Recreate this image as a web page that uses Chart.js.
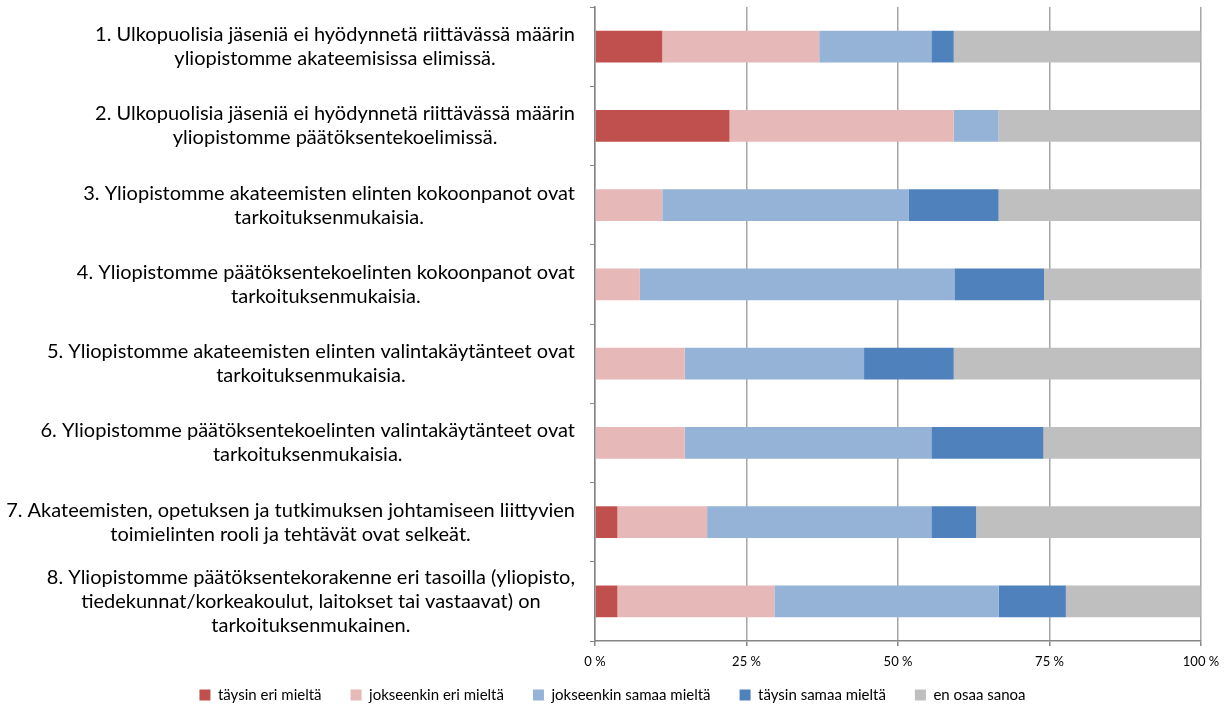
<!DOCTYPE html>
<html>
<head>
<meta charset="utf-8">
<script src="https://cdn.jsdelivr.net/npm/chart.js@4/dist/chart.umd.min.js"></script>
<style>
  html, body { margin:0; padding:0; background:#fff; }
  #wrap { width:1230px; height:704px; }
</style>
</head>
<body>
<div id="wrap"><canvas id="bar-chart"></canvas></div>
<script>
var categories = [
  ["1. Ulkopuolisia jäseniä ei hyödynnetä riittävässä määrin", "yliopistomme akateemisissa elimissä."],
  ["2. Ulkopuolisia jäseniä ei hyödynnetä riittävässä määrin", "yliopistomme päätöksentekoelimissä."],
  ["3. Yliopistomme akateemisten elinten kokoonpanot ovat", "tarkoituksenmukaisia."],
  ["4. Yliopistomme päätöksentekoelinten kokoonpanot ovat", "tarkoituksenmukaisia."],
  ["5. Yliopistomme akateemisten elinten valintakäytänteet ovat", "tarkoituksenmukaisia."],
  ["6. Yliopistomme päätöksentekoelinten valintakäytänteet ovat", "tarkoituksenmukaisia."],
  ["7. Akateemisten, opetuksen ja tutkimuksen johtamiseen liittyvien", "toimielinten rooli ja tehtävät ovat selkeät."],
  ["8. Yliopistomme päätöksentekorakenne eri tasoilla (yliopisto,", "tiedekunnat/korkeakoulut, laitokset tai vastaavat) on", "tarkoituksenmukainen."]
];

var taysinEri      = [11.1, 22.2, 0,    0,    0,    0,    3.7,  3.7];
var jokseenkinEri  = [25.9, 37.0, 11.1, 7.4,  14.8, 14.8, 14.8, 25.9];
var jokseenkinSama = [18.5, 7.4,  40.7, 51.9, 29.6, 40.7, 37.0, 37.0];
var taysinSama     = [3.7,  0,    14.8, 14.8, 14.8, 18.5, 7.4,  11.1];
var enOsaa         = [40.7, 33.3, 33.3, 25.9, 40.7, 25.9, 37.0, 22.2];

var xTickValues = [0, 25, 50, 75, 100];
var xTickLabels = ['0 %', '25 %', '50 %', '75 %', '100 %'];

var FONT = "Lato, 'Liberation Sans', sans-serif";

// axis labels drawn by hand: category lines centred inside a right-aligned block (like Excel),
// and the % labels below the axis (the built-in ones get clipped by the tight layout)
var axisLabelPlugin = {
  id: 'axisLabels',
  afterDraw: function(chart) {
    var ctx = chart.ctx;
    var ys = chart.scales.y;
    var xs = chart.scales.x;
    var right = chart.chartArea.left - 20;
    var lh = 24;
    ctx.save();
    ctx.font = '20px ' + FONT;
    ctx.fillStyle = '#000';
    ctx.textAlign = 'center';
    ctx.textBaseline = 'middle';
    categories.forEach(function(lines, i) {
      var w = 0;
      lines.forEach(function(l){ w = Math.max(w, ctx.measureText(l).width); });
      var cx = right - w / 2;
      var yc = ys.getPixelForValue(i);
      lines.forEach(function(l, j) {
        ctx.fillText(l, cx, yc + (j - (lines.length - 1) / 2) * lh);
      });
    });

    ctx.font = '13px ' + FONT;
    xTickValues.forEach(function(v, i) {
      ctx.fillText(xTickLabels[i], xs.getPixelForValue(v), chart.chartArea.bottom + 21);
    });
    ctx.restore();
  }
};

var ctx = document.getElementById('bar-chart').getContext('2d');
new Chart(ctx, {
  type: 'bar',
  data: {
    labels: categories,
    datasets: [
      { label: 'täysin eri mieltä', backgroundColor: '#C0504D', data: taysinEri },
      { label: 'jokseenkin eri mieltä', backgroundColor: '#E6B9B8', data: jokseenkinEri },
      { label: 'jokseenkin samaa mieltä', backgroundColor: '#95B3D7', data: jokseenkinSama },
      { label: 'täysin samaa mieltä', backgroundColor: '#4F81BD', data: taysinSama },
      { label: 'en osaa sanoa', backgroundColor: '#BFBFBF', data: enOsaa }
    ]
  },
  options: {
    indexAxis: 'y',
    responsive: true,
    maintainAspectRatio: false,
    animation: false,
    datasets: { bar: { barPercentage: 0.4, categoryPercentage: 1.0, borderWidth: 0 } },
    layout: { padding: { left: 24, right: 29, top: 7, bottom: -8.5 } },
    plugins: {
      tooltip: { enabled: false },
      legend: {
        position: 'bottom',
        labels: {
          boxWidth: 11, boxHeight: 11, padding: 29,
          color: '#000',
          font: { family: FONT, size: 15 }
        }
      }
    },
    scales: {
      x: {
        stacked: true, min: 0, max: 100,
        ticks: { stepSize: 25, display: false },
        grid: { color: '#A6A6A6', lineWidth: 1.5, tickLength: 5, tickColor: '#868686' },
        border: { color: '#868686', width: 1.5 },
        afterFit: function(scale) { scale.height = 17.5; }
      },
      y: {
        stacked: true,
        ticks: { display: false },
        grid: { drawOnChartArea: false, tickLength: 5, color: '#868686', offset: true },
        border: { color: '#868686', width: 1.5 },
        afterFit: function(scale) { scale.width = 571; }
      }
    }
  },
  plugins: [axisLabelPlugin]
});
</script>
</body>
</html>
